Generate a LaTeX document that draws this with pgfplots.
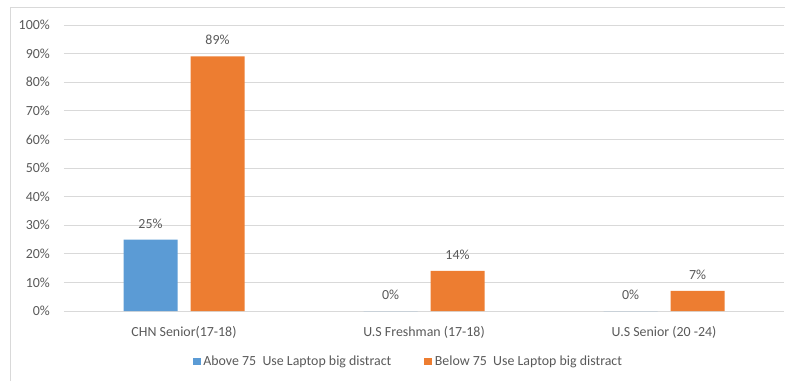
\documentclass[border=0pt]{standalone}
\usepackage{pgfplots}
\pgfplotsset{compat=1.18}
\usepackage{fontspec}
\setmainfont{Carlito}

\definecolor{barblue}{HTML}{5B9BD5}
\definecolor{barorange}{HTML}{ED7D31}
\definecolor{txtgray}{HTML}{595959}
\definecolor{gridgray}{HTML}{D9D9D9}

\begin{document}
\fontsize{13.9}{16}\selectfont
\begin{tikzpicture}[x=1pt,y=1pt]
\useasboundingbox (0,0) rectangle (785,381);
% chart frame (left and top edges)
\draw[gridgray, line width=0.8pt] (10.5,0) -- (10.5,374) -- (790,374);
\begin{axis}[
  at={(64pt,70pt)}, anchor=south west,
  scale only axis, width=720pt, height=286pt,
  ybar=13pt, bar width=54pt,
  xmin=-0.5, xmax=2.5,
  ymin=0, ymax=100,
  xtick={0,1,2},
  xticklabels={CHN Senior(17-18), U.S Freshman (17-18), U.S Senior (20 -24)},
  ytick={0,10,...,100},
  yticklabel={\pgfmathprintnumber{\tick}\%},
  /pgf/number format/assume math mode=true,
  ymajorgrids, major grid style={draw=gridgray, line width=0.8pt},
  axis line style={draw=none},
  tick style={draw=none},
  font=\fontsize{13.9}{16}\selectfont,
  every tick label/.append style={text=txtgray},
  xticklabel style={anchor=base, inner sep=0pt, yshift=-21pt},
  yticklabel style={anchor=east, inner sep=0pt, xshift=-14pt},
  nodes near coords={\pgfmathprintnumber{\pgfplotspointmeta}\%},
  nodes near coords style={anchor=base, inner sep=0pt, yshift=11.5pt, text=txtgray, font=\fontsize{13.9}{16}\selectfont},
  legend columns=2,
  legend style={at={(0.477,-0.1766)}, anchor=center, draw=none, fill=none,
    inner sep=0pt, text=txtgray, font=\fontsize{13.9}{16}\selectfont,
    nodes={inner sep=0pt},
    /tikz/every odd column/.append style={column sep=2.5pt},
    /tikz/every even column/.append style={column sep=33pt}},
  legend image code/.code={\fill[#1] (0pt,-3.5pt) rectangle (8pt,4pt);},
]
\addplot[fill=barblue, draw=none] coordinates {(0,25) (1,0) (2,0)};
\addplot[fill=barorange, draw=none] coordinates {(0,89) (1,14) (2,7)};
\legend{Above 75\ \ Use Laptop big distract, Below 75\ \ Use Laptop big distract}
\end{axis}
\end{tikzpicture}
\end{document}
